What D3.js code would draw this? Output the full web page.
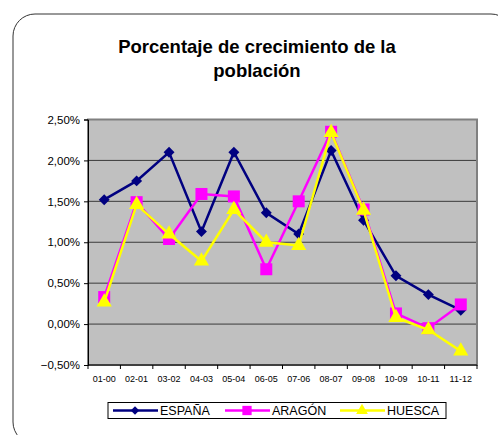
<!DOCTYPE html>
<html>
<head>
<meta charset="utf-8">
<script src="https://cdn.jsdelivr.net/npm/d3@7"></script>
<style>
  body { margin: 0; background: #fff; }
  svg { display: block; font-family: 'Liberation Sans', Arial, sans-serif; }
</style>
</head>
<body>
<svg id="chart" width="498" height="435"></svg>
<script>
// data
const periods = ['01-00', '02-01', '03-02', '04-03', '05-04', '06-05', '07-06', '08-07', '09-08', '10-09', '10-11', '11-12']
const espana = [1.52, 1.75, 2.10, 1.13, 2.10, 1.36, 1.10, 2.12, 1.27, 0.59, 0.36, 0.17]
const aragon = [0.33, 1.49, 1.04, 1.59, 1.56, 0.67, 1.50, 2.35, 1.40, 0.13, -0.05, 0.24]
const huesca = [0.27, 1.46, 1.10, 0.77, 1.40, 1.00, 0.96, 2.34, 1.39, 0.08, -0.07, -0.33]
const yTicks = [-0.5, 0, 0.5, 1, 1.5, 2, 2.5]

const series = [
  { name: 'ESPAÑA', values: espana, color: '#000080', symbol: d3.symbolSquare, size: 60, rotate: 45 },
  { name: 'ARAGÓN', values: aragon, color: '#ff00ff', symbol: d3.symbolSquare, size: 144, rotate: 0 },
  { name: 'HUESCA', values: huesca, color: '#ffff00', symbol: d3.symbolTriangle, size: 100, rotate: 0 }
]

const svg = d3.select('#chart')

// outer rounded frame
svg.append('rect')
  .attr('x', 13).attr('y', 14)
  .attr('width', 500).attr('height', 430)
  .attr('rx', 22)
  .attr('fill', '#fff')
  .attr('stroke', '#333')
  .attr('stroke-width', 1)

// title
const title = svg.append('text')
  .attr('text-anchor', 'middle')
  .attr('font-size', 18.5)
  .attr('font-weight', 'bold')
  .attr('fill', '#000')
title.append('tspan').attr('x', 257).attr('y', 53).text('Porcentaje de crecimiento de la')
title.append('tspan').attr('x', 257).attr('y', 77).text('población')

const plot = { left: 88, right: 477, top: 119.5, bottom: 365 }

const x = d3.scaleBand()
  .domain(periods)
  .range([plot.left, plot.right])

const y = d3.scaleLinear()
  .domain([-0.5, 2.5])
  .range([plot.bottom, plot.top])

// plot background
svg.append('rect')
  .attr('x', plot.left).attr('y', plot.top)
  .attr('width', plot.right - plot.left).attr('height', plot.bottom - plot.top)
  .attr('fill', '#c0c0c0')

// gridlines
svg.append('g')
  .selectAll('line')
  .data(yTicks.slice(1, -1))
  .join('line')
  .attr('x1', plot.left).attr('x2', plot.right)
  .attr('y1', d => y(d)).attr('y2', d => y(d))
  .attr('stroke', '#3a3a3a')
  .attr('stroke-width', 1)

// plot border
svg.append('rect')
  .attr('x', plot.left).attr('y', plot.top)
  .attr('width', plot.right - plot.left).attr('height', plot.bottom - plot.top)
  .attr('fill', 'none')
  .attr('stroke', '#808080')
  .attr('stroke-width', 2)

// y axis
const fmt = d => d3.format('.2f')(d).replace('.', ',') + '%'
const yAxis = svg.append('g')
  .attr('transform', `translate(${plot.left},0)`)
  .call(d3.axisLeft(y).tickValues(yTicks).tickFormat(fmt).tickSize(4).tickPadding(4))
yAxis.select('.domain').attr('stroke', '#000')
yAxis.selectAll('.tick line').attr('stroke', '#000')
yAxis.selectAll('.tick text').attr('font-size', 11.5).attr('fill', '#000')
  .attr('font-family', "'Liberation Sans', Arial, sans-serif")

// x axis: ticks between categories
const xAxis = svg.append('g')
  .attr('transform', `translate(0,${plot.bottom})`)
xAxis.append('line')
  .attr('x1', plot.left).attr('x2', plot.right)
  .attr('stroke', '#000')
xAxis.selectAll('line.sep')
  .data(periods.concat(['end']))
  .join('line')
  .attr('class', 'sep')
  .attr('x1', (d, i) => plot.left + i * x.bandwidth())
  .attr('x2', (d, i) => plot.left + i * x.bandwidth())
  .attr('y1', 0).attr('y2', 4)
  .attr('stroke', '#000')
xAxis.selectAll('text')
  .data(periods)
  .join('text')
  .attr('x', d => x(d) + x.bandwidth() / 2)
  .attr('y', 17)
  .attr('text-anchor', 'middle')
  .attr('font-size', 9)
  .attr('fill', '#000')
  .text(d => d)

// lines and markers
const line = d3.line()
  .x((d, i) => x(periods[i]) + x.bandwidth() / 2)
  .y(d => y(d))

series.forEach(s => {
  const g = svg.append('g')
  g.append('path')
    .datum(s.values)
    .attr('d', line)
    .attr('fill', 'none')
    .attr('stroke', s.color)
    .attr('stroke-width', 2.5)
  g.selectAll('path.m')
    .data(s.values)
    .join('path')
    .attr('class', 'm')
    .attr('d', d3.symbol().type(s.symbol).size(s.size))
    .attr('transform', (d, i) => `translate(${x(periods[i]) + x.bandwidth() / 2},${y(d)}) rotate(${s.rotate})`)
    .attr('fill', s.color)
})

// legend
const legend = svg.append('g')
legend.append('rect')
  .attr('x', 108).attr('y', 402.5)
  .attr('width', 338).attr('height', 16)
  .attr('fill', '#fff')
  .attr('stroke', '#000')
  .attr('stroke-width', 1)
const legendX = [113, 225, 340]
series.forEach((s, i) => {
  const lx = legendX[i]
  legend.append('line')
    .attr('x1', lx).attr('x2', lx + 45)
    .attr('y1', 410.5).attr('y2', 410.5)
    .attr('stroke', s.color)
    .attr('stroke-width', 2.5)
  legend.append('path')
    .attr('d', d3.symbol().type(s.symbol).size(s.size * 0.6))
    .attr('transform', `translate(${lx + 22},410.5) rotate(${s.rotate})`)
    .attr('fill', s.color)
  legend.append('text')
    .attr('x', lx + 47).attr('y', 415)
    .attr('font-size', 12.5)
    .attr('fill', '#000')
    .text(s.name)
})
</script>
</body>
</html>
